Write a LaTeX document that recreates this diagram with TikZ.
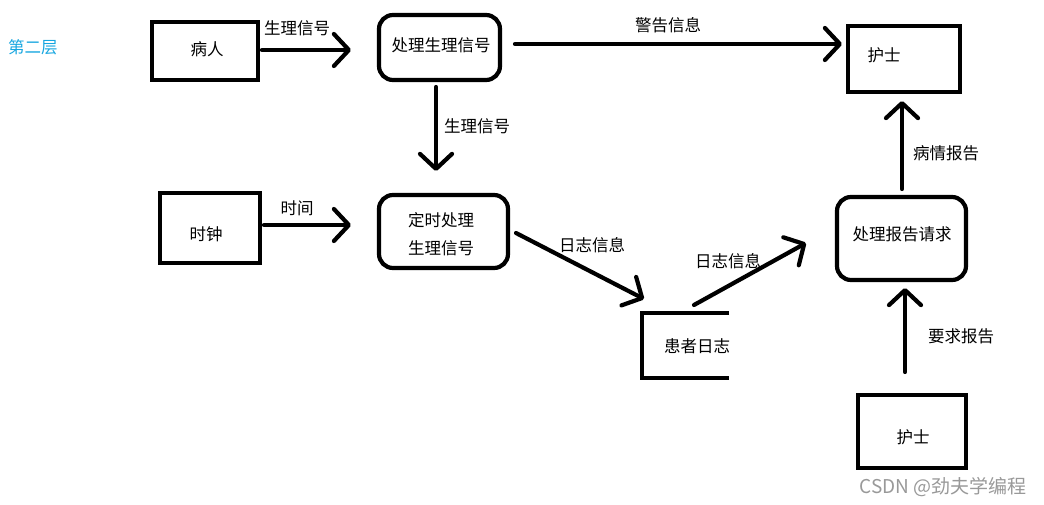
\documentclass[tikz,border=0pt]{standalone}
\usepackage{fontspec}
\newfontfamily\cjk{Noto Sans CJK SC}
\usetikzlibrary{arrows.meta}
\definecolor{layerblue}{HTML}{16A6E0}
\begin{document}
\begin{tikzpicture}[x=1pt,y=-1pt,
  every node/.style={font=\cjk\fontsize{16.5}{19}\selectfont, inner sep=0pt},
  box/.style={draw, line width=4.2pt, inner sep=0pt},
  rbox/.style={draw, line width=4.2pt, rounded corners=14pt, inner sep=0pt},
  flow/.style={line width=4.2pt, line cap=round, -{Straight Barb[length=15pt,width=32pt,line width=4.2pt,round]}},
  lbl/.style={font=\cjk\fontsize{16.5}{19}\selectfont}]
\useasboundingbox (0,0) rectangle (1044,505);
\fill[white] (0,0) rectangle (1044,505);
\node[text=layerblue] (layer) at (33,47) {第二层};
% boxes
\node[box, minimum width=106pt, minimum height=58pt] (patient) at (205,51) {};
\node (patientt) at (207,49) {病人};
\node[rbox, minimum width=121pt, minimum height=65pt] (proc) at (439.5,47.5) {};
\node (proct) at (441,45) {处理生理信号};
\node[box, minimum width=112pt, minimum height=66pt] (nurse1) at (904,59) {};
\node (nurse1t) at (884,55) {护士};
\node[box, minimum width=100pt, minimum height=70pt] (clock) at (210,228) {};
\node (clockt) at (206,234) {时钟};
\node[rbox, minimum width=129pt, minimum height=73pt] (timed) at (443.5,231.5) {};
\node (timedt1) at (441,220) {定时处理};
\node (timedt2) at (441,248) {生理信号};
\node[rbox, minimum width=129pt, minimum height=83pt] (report) at (901.5,238.5) {};
\node (reportt) at (902,234) {处理报告请求};
\node[box, minimum width=108pt, minimum height=73pt] (nurse2) at (912,431.5) {};
\node (nurse2t) at (913,437) {护士};
% data store
\coordinate (st1) at (729,313);
\coordinate (st2) at (642,313);
\coordinate (st3) at (642,378);
\coordinate (st4) at (729,378);
\draw[line width=4.2pt] (st1) -- (st2) -- (st3) -- (st4);
\node (store) at (697,346) {患者日志};
% arrows
\coordinate (a1s) at (262,50); \coordinate (a1e) at (351,50);
\draw[flow] (a1s) -- (a1e);
\node[lbl] (l1) at (297,28) {生理信号};
\coordinate (a2s) at (515,44); \coordinate (a2e) at (842,44);
\draw[flow] (a2s) -- (a2e);
\node[lbl] (l2) at (668,25) {警告信息};
\coordinate (a3s) at (436,87); \coordinate (a3e) at (436,171);
\draw[flow] (a3s) -- (a3e);
\node[lbl] (l3) at (477,126) {生理信号};
\coordinate (a4s) at (264,225); \coordinate (a4e) at (351,225);
\draw[flow] (a4s) -- (a4e);
\node[lbl] (l4) at (297,208) {时间};
\coordinate (a5s) at (516,233); \coordinate (a5e) at (644,299);
\draw[flow] (a5s) -- (a5e);
\node[lbl] (l5) at (592,245) {日志信息};
\coordinate (a6s) at (694,305); \coordinate (a6e) at (806,243);
\draw[flow] (a6s) -- (a6e);
\node[lbl] (l6) at (728,261) {日志信息};
\coordinate (a7s) at (902,189); \coordinate (a7e) at (902,101);
\draw[flow] (a7s) -- (a7e);
\node[lbl] (l7) at (946,153) {病情报告};
\coordinate (a8s) at (905,372); \coordinate (a8e) at (905,288);
\draw[flow] (a8s) -- (a8e);
\node[lbl] (l8) at (961,336) {要求报告};
\node[text=black!40, font=\cjk\fontsize{19}{21}\selectfont] (wm) at (943,487) {CSDN @劲夫学编程};
\end{tikzpicture}
\end{document}
